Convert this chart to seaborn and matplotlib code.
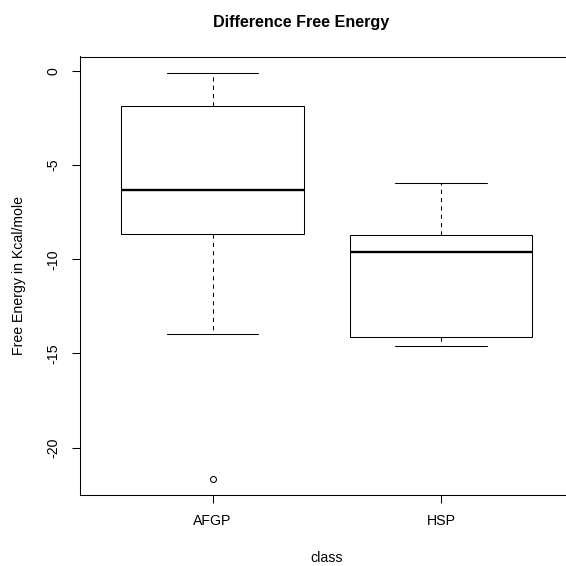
import numpy as np
import pandas as pd
import matplotlib
matplotlib.use("Agg")
import matplotlib.pyplot as plt
import seaborn as sns

# Data (estimated from the reference boxplot)
afgp_values = [-21.67, -13.96, -8.66, -7.5, -6.30, -4.0, -1.87, -1.0, -0.09]
hsp_values = [-14.59, -14.11, -9.63, -8.70, -5.93]
categories = ["AFGP", "HSP"]
y_ticks = [0, -5, -10, -15, -20]

df = pd.DataFrame({
    "class": ["AFGP"] * len(afgp_values) + ["HSP"] * len(hsp_values),
    "energy": afgp_values + hsp_values,
})

sns.set_theme(style="white")
plt.rcParams["font.family"] = ["Liberation Sans", "DejaVu Sans"]

fig = plt.figure(figsize=(5.66, 5.66), dpi=100)
ax = fig.add_axes([80 / 566, 1 - 495.2 / 566, (573.6 - 80) / 566, (495.2 - 56.5) / 566])

sns.boxplot(
    data=df, x="class", y="energy", order=categories, ax=ax,
    color="white", linecolor="black", linewidth=0.75, width=0.8,
    whis=1.5, fliersize=4.3,
    flierprops={"marker": "o", "markerfacecolor": "none",
                "markeredgecolor": "black", "markeredgewidth": 0.75},
    whiskerprops={"linestyle": (0, (4, 4))},
    medianprops={"linewidth": 1.7, "color": "black"},
    capprops={"linestyle": "-"},
    boxprops={"facecolor": "white", "edgecolor": "black"},
)

ax.set_xlim(-0.58, 1.58)
ax.set_ylim(-22.53, 0.77)
ax.set_yticks(y_ticks)
ax.set_yticklabels([str(v) for v in y_ticks])

for s in ax.spines.values():
    s.set_visible(True)
    s.set_color("black")
    s.set_linewidth(0.75)

fs = 10.2
ax.tick_params(axis="both", which="both", direction="out", length=6, width=0.75,
               color="black", labelsize=fs, labelcolor="black",
               bottom=True, left=True, top=False, right=False)
ax.tick_params(axis="x", pad=7.5)
ax.tick_params(axis="y", pad=8.2)
for lab in ax.get_yticklabels():
    lab.set_rotation(90)
    lab.set_va("center")
    lab.set_ha("right")

ax.set_xlabel("class", fontsize=fs, color="black", va="center")
ax.xaxis.set_label_coords(0.5, (495.2 - 558) / (495.2 - 56.5))
ax.set_ylabel("Free Energy in Kcal/mole", fontsize=fs, color="black", va="center")
ax.yaxis.set_label_coords((19 - 80) / (573.6 - 80), 0.5)

fig.text(301 / 566, 1 - 22 / 566, "Difference Free Energy", ha="center", va="center",
         fontsize=11.6, fontweight="bold", color="black")

fig.savefig("out.png", dpi=100, facecolor="white")
